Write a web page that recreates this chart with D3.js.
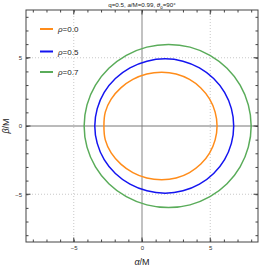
<!DOCTYPE html>
<html>
<head>
<meta charset="utf-8">
<script src="https://cdn.jsdelivr.net/npm/d3@7"></script>
<style>
  body { margin: 0; background: #fff; }
  text { font-family: "Liberation Sans", Arial, sans-serif; }
</style>
</head>
<body>
<div id="chart"></div>
<script>
// series (alpha/M, beta/M), closed curves
const rho00 = [[5.50,0],[5.36,1.02],[4.96,1.97],[4.31,2.79],[3.48,3.41],[2.50,3.81],[1.45,3.94],[0.35,3.81],[-0.67,3.41],[-1.55,2.79],[-2.26,1.97],[-2.69,1.02],[-2.79,0],
  [-2.69,-1.02],[-2.26,-1.97],[-1.55,-2.79],[-0.67,-3.41],[0.35,-3.81],[1.45,-3.94],[2.50,-3.81],[3.48,-3.41],[4.31,-2.79],[4.96,-1.97],[5.36,-1.02]];
const rho05 = [[6.72,0],[6.55,1.27],[6.05,2.46],[5.25,3.48],[4.21,4.26],[3.00,4.75],[1.70,4.92],[0.36,4.75],[-0.88,4.26],[-1.95,3.48],[-2.77,2.46],[-3.28,1.27],[-3.46,0],
  [-3.28,-1.27],[-2.77,-2.46],[-1.95,-3.48],[-0.88,-4.26],[0.36,-4.75],[1.70,-4.92],[3.00,-4.75],[4.21,-4.26],[5.25,-3.48],[6.05,-2.46],[6.55,-1.27]];
const rho07 = [[8.00,0],[7.79,1.55],[7.19,2.99],[6.23,4.23],[4.98,5.18],[3.52,5.78],[1.95,5.98],[0.35,5.78],[-1.15,5.18],[-2.43,4.23],[-3.41,2.99],[-4.03,1.55],[-4.24,0],
  [-4.03,-1.55],[-3.41,-2.99],[-2.43,-4.23],[-1.15,-5.18],[0.35,-5.78],[1.95,-5.98],[3.52,-5.78],[4.98,-5.18],[6.23,-4.23],[7.19,-2.99],[7.79,-1.55]];

const labels = ["ρ=0.0", "ρ=0.5", "ρ=0.7"];
const colors = ["#ff8c1a", "#1414f0", "#5aac5a"];
const majorTicks = [-5, 0, 5];
const minorTicks = d3.range(-8, 9);

const W = 259, H = 269;
const margin = { top: 10, right: 1, bottom: 27, left: 26 };
const width = W - margin.left - margin.right,
  height = H - margin.top - margin.bottom;

const svg = d3.select("#chart").append("svg")
  .attr("width", W).attr("height", H);

const g = svg.append("g")
  .attr("transform", `translate(${margin.left},${margin.top})`);

const x = d3.scaleLinear().domain([-8.5, 8.5]).range([0, width]);
const y = d3.scaleLinear().domain([-8.5, 8.5]).range([height, 0]);

// dotted grid at +-5
[-5, 5].forEach(v => {
  g.append("line").attr("x1", x(v)).attr("x2", x(v)).attr("y1", 0).attr("y2", height)
    .attr("stroke", "#c8c8c8").attr("stroke-dasharray", "1,2");
  g.append("line").attr("y1", y(v)).attr("y2", y(v)).attr("x1", 0).attr("x2", width)
    .attr("stroke", "#c8c8c8").attr("stroke-dasharray", "1,2");
});

// axes through origin
g.append("line").attr("x1", x(0)).attr("x2", x(0)).attr("y1", 0).attr("y2", height)
  .attr("stroke", "#a8a8a8").attr("stroke-width", 1.4);
g.append("line").attr("y1", y(0)).attr("y2", y(0)).attr("x1", 0).attr("x2", width)
  .attr("stroke", "#777").attr("stroke-width", 1);

// curves
const line = d3.line()
  .x(d => x(d[0]))
  .y(d => y(d[1]))
  .curve(d3.curveCatmullRomClosed);

[rho00, rho05, rho07].forEach((s, i) => {
  g.append("path")
    .datum(s)
    .attr("fill", "none")
    .attr("stroke", colors[i])
    .attr("stroke-width", 1.5)
    .attr("d", line);
});

// frame with ticks on all sides
g.append("rect").attr("width", width).attr("height", height)
  .attr("fill", "none").attr("stroke", "#444").attr("stroke-width", 1);

function ticks(axisFn, scale, len, tr) {
  g.append("g").attr("transform", tr)
    .call(axisFn(scale).tickValues(minorTicks).tickSize(len).tickFormat(""))
    .call(a => a.select(".domain").remove())
    .call(a => a.selectAll("line").attr("stroke", "#444"));
}
ticks(d3.axisTop, x, 2.5, `translate(0,${height})`);
ticks(d3.axisBottom, x, 2.5, "translate(0,0)");
ticks(d3.axisRight, y, 2.5, "translate(0,0)");
ticks(d3.axisLeft, y, 2.5, `translate(${width},0)`);

// major ticks + labels
const xAxis = g.append("g").attr("transform", `translate(0,${height})`)
  .call(d3.axisBottom(x).tickValues(majorTicks).tickSize(0).tickPadding(4).tickFormat(d => d < 0 ? "\u2212" + Math.abs(d) : d));
xAxis.select(".domain").remove();
xAxis.selectAll("text").attr("font-size", 6).attr("fill", "#333").attr("font-family", "Liberation Sans, Arial, sans-serif");
majorTicks.forEach(v => {
  g.append("line").attr("x1", x(v)).attr("x2", x(v)).attr("y1", height).attr("y2", height - 4.5).attr("stroke", "#444");
  g.append("line").attr("x1", x(v)).attr("x2", x(v)).attr("y1", 0).attr("y2", 4.5).attr("stroke", "#444");
  g.append("line").attr("y1", y(v)).attr("y2", y(v)).attr("x1", 0).attr("x2", 4.5).attr("stroke", "#444");
  g.append("line").attr("y1", y(v)).attr("y2", y(v)).attr("x1", width).attr("x2", width - 4.5).attr("stroke", "#444");
});

const yAxis = g.append("g")
  .call(d3.axisLeft(y).tickValues(majorTicks).tickSize(0).tickPadding(4).tickFormat(d => d < 0 ? "\u2212" + Math.abs(d) : d));
yAxis.select(".domain").remove();
yAxis.selectAll("text").attr("font-size", 6).attr("fill", "#333").attr("font-family", "Liberation Sans, Arial, sans-serif");

// title
const title = svg.append("text").attr("x", margin.left + width / 2).attr("y", 7)
  .attr("text-anchor", "middle").attr("font-size", 6.2).attr("fill", "#222");
title.append("tspan").text("q=0.5, ");
title.append("tspan").attr("font-style", "italic").text("a");
title.append("tspan").text("/M=0.99, ");
title.append("tspan").attr("font-style", "italic").text("θ");
title.append("tspan").attr("font-size", 4.5).attr("dy", 1.5).text("o");
title.append("tspan").attr("dy", -1.5).text("=90°");

// axis labels
const xl = svg.append("text").attr("x", margin.left + x(0)).attr("y", 265)
  .attr("text-anchor", "middle").attr("font-size", 9).attr("fill", "#222");
xl.append("tspan").attr("font-style", "italic").text("α");
xl.append("tspan").text("/M");

const yl = svg.append("text")
  .attr("transform", `translate(9,${margin.top + y(0)}) rotate(-90)`)
  .attr("text-anchor", "middle").attr("font-size", 9).attr("fill", "#222");
yl.append("tspan").attr("font-style", "italic").text("β");
yl.append("tspan").text("/M");

// legend
const legY = [29, 51.5, 72];
labels.forEach((l, i) => {
  svg.append("line").attr("x1", 40).attr("x2", 53).attr("y1", legY[i]).attr("y2", legY[i])
    .attr("stroke", colors[i]).attr("stroke-width", 2);
  const t = svg.append("text").attr("x", 58).attr("y", legY[i] + 3)
    .attr("font-size", 8).attr("fill", "#222");
  t.append("tspan").attr("font-style", "italic").text("ρ");
  t.append("tspan").text(l.slice(1));
});
</script>
</body>
</html>
